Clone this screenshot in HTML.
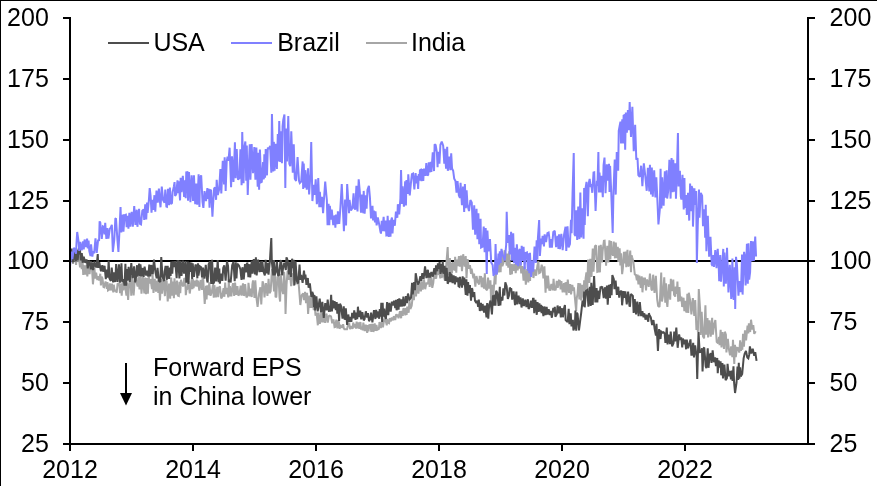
<!DOCTYPE html>
<html><head><meta charset="utf-8"><style>html,body{margin:0;padding:0;background:#fff;overflow:hidden}svg{display:block}text{will-change:transform}</style></head>
<body><svg width="877" height="486" viewBox="0 0 877 486">
<rect width="877" height="486" fill="#fff"/>
<rect x="70" y="260" width="738" height="2" fill="#000"/>
<g fill="none" stroke-width="2.0" stroke-linejoin="miter" stroke-miterlimit="2">
<path d="M70.00,261.2 71.13,259.9 71.89,254.5 73.02,263.9 74.05,255.1 74.85,254.6 76.07,264.9 77.01,254.5 77.73,261.6 78.61,255.9 80.02,267.4 80.68,257.3 81.75,269.1 82.31,255.2 83.23,274.9 83.77,265.1 85.25,274.5 85.78,266.8 86.44,265.2 87.32,276.4 88.41,264.5 89.63,274.1 90.65,261.8 91.79,265.5 92.96,284.3 94.43,267.7 95.25,278.7 96.13,272.7 97.36,280.0 98.30,276.1 99.13,280.5 100.28,273.7 100.90,285.5 101.68,276.7 102.52,278.5 103.44,286.9 104.10,287.3 105.55,281.5 106.88,288.9 107.45,282.1 108.00,290.4 109.07,289.7 109.87,283.4 110.72,290.5 112.00,283.6 113.29,292.4 113.80,284.7 114.82,291.5 115.33,289.7 116.68,292.6 117.50,284.1 118.32,283.6 119.20,283.6 120.08,293.1 120.96,283.6 121.70,295.8 122.63,282.0 123.39,290.5 124.55,280.0 125.16,286.2 126.43,295.5 126.95,282.6 128.13,299.9 129.14,283.9 130.57,278.6 131.25,295.7 132.15,275.8 133.62,295.4 134.81,278.9 136.21,280.7 137.62,286.6 138.32,277.2 139.51,289.5 140.60,274.4 141.48,293.6 142.97,277.2 144.31,293.4 145.21,277.6 145.94,294.3 146.68,278.0 147.88,293.7 148.81,274.5 149.60,283.6 150.54,279.2 151.99,289.1 152.60,274.7 153.48,292.9 154.78,278.8 155.96,291.6 157.13,280.7 158.27,292.8 158.91,277.6 159.96,300.5 161.22,278.7 161.98,293.7 163.25,280.4 164.29,288.4 164.89,296.2 165.58,280.2 166.67,281.1 167.70,301.5 169.09,283.6 170.17,298.6 171.16,277.6 172.32,295.8 172.85,281.6 173.92,298.2 174.47,278.4 175.90,294.6 177.00,280.5 177.85,295.6 178.83,296.0 179.49,281.7 180.30,293.1 180.98,279.8 182.07,284.2 183.36,286.5 184.26,278.1 185.25,279.2 185.80,295.1 186.52,289.1 187.14,289.7 188.43,281.0 189.75,293.5 191.22,282.5 191.75,279.3 192.45,289.3 192.99,279.4 193.58,288.2 194.76,280.7 195.99,286.2 196.72,279.6 197.39,286.7 198.04,280.7 199.30,290.5 200.68,280.0 201.91,289.9 202.52,277.2 203.26,279.5 204.72,304.0 206.01,285.7 206.59,299.5 207.28,285.3 208.40,295.2 209.25,282.3 210.56,295.8 211.79,292.0 213.02,284.4 213.74,297.8 214.40,285.2 215.89,297.4 217.29,286.9 218.20,297.2 218.80,287.8 219.94,286.4 221.18,298.5 222.09,297.0 223.57,288.1 224.38,296.8 225.17,282.6 225.96,294.2 227.00,288.0 228.27,297.4 228.78,279.0 229.38,296.4 229.92,286.2 231.33,296.3 232.34,286.8 233.01,283.1 234.18,296.0 235.09,282.6 236.14,294.8 237.44,286.1 238.35,295.6 239.46,294.1 240.67,285.6 241.54,295.6 242.97,283.4 243.78,295.8 244.56,294.6 245.14,284.0 246.48,297.5 247.94,295.1 248.49,282.8 249.89,296.4 250.45,288.5 251.77,297.0 252.38,284.5 253.01,280.4 254.45,297.9 255.30,280.3 256.55,298.6 257.59,307.0 259.02,293.9 260.36,287.2 261.27,304.5 262.57,281.2 263.51,284.2 264.51,297.5 265.95,283.2 267.43,295.9 268.57,278.8 269.55,293.3 270.67,291.2 271.95,269.0 272.66,273.0 274.03,291.5 274.90,274.5 275.55,297.3 276.33,296.7 277.36,277.2 278.55,276.1 279.52,297.5 280.11,301.5 280.79,273.8 281.95,288.8 283.14,294.1 284.12,271.9 284.95,282.5 285.54,314.0 286.56,284.7 287.60,270.7 288.63,280.0 289.75,269.9 291.11,286.2 291.80,273.8 293.24,274.8 293.78,285.6 295.11,281.5 295.88,266.5 296.82,284.3 297.93,276.2 298.97,287.3 300.33,305.0 301.72,295.2 303.22,293.4 304.06,300.1 305.04,291.8 306.03,303.1 307.08,292.8 308.12,313.9 309.36,295.6 310.11,307.8 310.93,297.9 311.62,307.9 312.33,294.8 313.75,310.1 314.56,304.1 315.54,315.6 316.55,312.5 317.84,325.3 318.57,312.6 319.83,323.8 321.20,312.6 322.13,322.3 322.67,313.4 323.93,322.4 324.48,314.2 325.18,322.9 325.83,316.0 326.49,313.6 327.77,322.7 328.89,316.1 329.56,315.6 331.03,316.4 332.19,323.3 333.49,319.5 334.57,327.2 335.09,327.0 336.35,319.6 337.38,328.4 337.98,320.5 338.91,322.0 339.54,328.7 340.96,325.9 342.33,327.7 343.13,324.2 343.72,328.0 344.41,329.2 345.55,329.3 347.01,329.3 348.22,324.1 349.32,324.0 350.08,329.1 351.53,326.1 352.62,328.8 353.22,322.5 354.06,327.4 355.31,324.0 356.00,328.6 356.61,321.7 357.31,328.2 358.72,322.4 359.36,328.9 360.46,322.0 361.10,329.6 361.92,326.7 362.73,330.2 363.32,322.7 364.72,331.0 365.76,324.7 367.20,332.8 367.90,325.2 368.52,331.4 369.28,325.1 370.45,324.9 371.29,332.0 371.82,325.3 372.64,324.2 373.44,332.0 374.70,323.3 375.59,330.9 376.45,324.9 377.40,329.8 378.88,329.0 379.46,322.0 380.84,328.1 381.79,322.0 382.96,327.4 384.29,318.9 385.51,320.1 386.75,325.3 387.27,318.8 387.90,322.6 389.07,323.2 389.80,318.1 390.69,321.4 391.97,317.7 393.20,320.4 393.80,316.1 395.24,320.0 396.24,314.1 396.93,317.0 397.87,314.3 398.51,318.4 399.96,311.2 401.12,318.3 401.67,310.8 402.79,315.8 403.36,308.3 404.21,309.3 405.29,315.4 405.85,308.2 406.60,314.8 407.25,306.7 408.68,312.7 409.44,299.6 410.34,309.0 411.69,305.7 413.07,293.6 413.92,300.1 415.04,282.5 416.02,296.4 417.11,283.7 418.44,293.6 419.59,281.9 420.91,291.3 421.98,281.6 422.76,289.6 423.99,279.3 425.21,289.2 426.46,282.6 427.91,284.2 429.03,275.1 429.66,286.9 430.91,275.7 432.27,287.8 433.26,283.2 434.38,271.0 434.96,278.0 436.23,277.8 437.49,268.9 438.31,274.8 439.04,270.7 440.30,278.3 441.01,269.0 441.56,277.8 442.50,275.8 443.50,266.2 444.06,276.9 444.92,280.5 446.29,264.9 447.67,247.0 448.63,275.2 449.87,258.1 450.50,274.8 451.40,262.9 451.99,272.9 452.73,262.1 453.52,269.4 454.61,269.8 455.14,256.9 456.27,272.7 456.93,259.6 457.75,266.2 458.94,256.1 459.83,266.6 461.01,255.6 461.97,271.1 463.18,254.2 464.65,266.7 465.71,256.1 466.52,278.1 467.63,259.1 468.97,268.8 469.96,265.2 471.05,273.8 471.59,268.7 472.46,273.4 473.37,278.3 474.05,273.7 475.34,286.6 476.48,276.0 477.70,281.8 479.18,284.4 479.69,276.9 481.09,277.0 481.71,287.3 482.65,277.6 484.01,288.7 484.83,273.2 485.77,288.8 487.15,290.3 488.04,277.6 489.11,288.7 490.44,280.3 491.09,301.1 491.99,296.7 492.54,284.8 493.48,294.4 494.69,275.9 495.50,284.5 496.10,270.2 496.93,274.1 497.74,264.4 498.76,272.5 499.57,259.9 500.64,272.1 501.16,258.0 501.74,251.9 502.38,266.3 503.58,262.6 504.59,250.3 505.31,252.6 506.69,265.7 507.43,253.5 508.28,267.8 509.25,251.3 510.21,274.8 511.15,264.2 511.91,274.3 512.49,264.2 513.90,270.9 514.78,263.9 515.70,273.1 516.66,262.9 517.66,270.3 518.44,262.7 519.26,268.5 520.07,260.4 521.27,273.3 522.41,266.2 523.56,280.7 524.65,266.5 525.83,284.7 527.24,269.0 528.34,282.5 529.28,265.3 530.07,281.0 530.66,268.2 531.74,272.7 532.55,269.5 533.43,278.0 534.69,269.5 536.12,275.7 537.40,265.6 538.37,261.3 539.13,273.1 540.38,272.3 541.70,264.6 542.63,269.1 543.40,278.5 544.42,266.3 545.55,292.6 546.38,275.6 547.13,288.5 547.99,275.7 549.29,289.8 550.32,289.9 551.33,283.8 552.83,290.2 553.57,278.8 554.47,290.3 555.17,289.4 555.71,289.4 556.79,280.8 557.73,287.8 558.98,280.6 559.78,280.8 560.65,289.3 561.37,281.2 562.65,292.4 563.98,283.1 564.90,292.4 565.55,282.2 566.55,295.1 567.78,279.7 569.08,292.9 570.20,284.0 571.03,294.3 572.32,285.0 573.36,290.9 573.96,287.3 574.82,297.2 576.16,311.0 576.72,298.4 577.58,293.3 578.35,283.1 579.37,299.4 580.15,283.2 581.14,300.4 582.10,284.9 583.58,297.7 584.15,280.3 584.74,294.9 585.56,278.6 586.42,272.3 587.28,289.6 588.08,259.5 589.46,283.0 590.23,258.8 591.49,276.9 592.75,248.6 593.52,271.8 594.91,246.2 596.08,245.3 597.28,271.9 598.28,271.6 599.06,245.5 599.92,272.4 600.79,244.8 602.05,262.5 602.62,251.1 603.90,240.9 604.62,240.7 606.09,265.6 607.24,245.7 608.41,262.5 609.41,240.3 610.35,259.4 611.02,241.0 611.60,252.6 612.96,255.7 613.68,241.6 614.94,258.3 615.77,242.6 616.83,258.2 617.79,246.7 618.32,261.9 619.65,248.2 620.38,265.5 621.02,253.2 622.14,274.2 622.86,268.3 623.94,251.7 625.12,263.3 625.68,251.6 626.27,267.3 627.49,249.8 628.00,266.2 628.80,265.7 630.25,250.5 630.99,272.1 631.59,255.2 632.12,257.3 633.42,262.0 634.79,274.4 635.95,275.0 636.86,280.4 637.59,274.6 638.41,284.5 639.34,275.6 640.78,288.0 641.70,276.4 642.46,292.3 643.67,277.7 644.37,285.0 644.89,277.5 646.06,290.4 646.73,279.5 647.49,281.0 648.74,286.8 649.95,273.7 651.44,289.3 652.15,290.4 653.14,274.7 654.51,292.9 655.85,275.8 657.18,299.5 658.12,306.0 659.50,307.0 660.03,298.0 661.21,272.6 661.94,301.5 662.85,296.5 664.25,277.3 665.27,302.8 665.95,283.4 666.83,302.1 667.38,307.0 668.85,284.2 670.20,299.6 670.85,278.8 671.82,291.2 673.28,279.5 674.05,294.7 675.21,296.6 675.76,286.5 676.77,293.9 677.42,281.6 678.20,301.6 679.41,287.0 680.31,301.2 681.34,296.6 682.17,307.0 683.57,297.7 684.34,311.1 685.08,300.9 686.19,311.7 686.77,312.3 687.33,293.7 688.26,313.0 688.79,292.7 690.28,301.2 691.39,314.4 692.84,298.0 694.26,316.0 695.23,300.0 696.44,330.0 697.12,323.2 697.90,332.0 698.78,289.0 700.14,309.7 700.65,334.9 701.66,311.9 702.97,336.2 704.09,338.4 705.42,305.3 706.22,334.6 707.50,318.0 708.10,337.4 709.49,320.3 710.73,336.7 712.13,317.7 712.92,334.7 714.13,324.7 715.35,320.0 716.69,341.8 718.08,343.4 719.01,337.0 719.57,345.1 720.65,329.8 721.50,347.4 722.52,332.0 723.97,348.9 724.87,331.7 725.91,334.7 726.41,352.5 727.86,338.8 728.88,349.1 730.06,355.4 731.17,346.3 732.33,357.2 732.97,339.7 734.28,364.0 734.93,344.7 735.75,357.1 737.09,347.8 738.06,348.0 739.26,352.6 740.14,340.3 740.99,350.9 741.54,342.4 742.32,349.8 743.04,333.7 743.92,346.8 744.97,330.3 746.08,340.4 747.55,325.7 748.30,333.5 748.89,323.4 750.17,332.0 751.03,319.7 752.30,329.5 753.27,325.1 754.27,333.9 755.66,331.2" stroke="#a6a6a6"/>
<path d="M70.00,262.4 71.00,254.0 71.59,248.5 72.81,262.4 73.34,260.0 74.26,258.0 75.26,248.3 75.78,261.4 76.47,249.7 77.68,260.4 78.85,248.1 79.94,249.9 80.85,260.3 81.79,253.1 82.68,262.7 83.78,256.7 85.26,262.8 86.71,259.5 87.76,268.3 89.00,260.6 89.93,263.2 90.91,269.3 92.03,262.5 93.12,270.2 94.44,261.6 95.69,266.4 96.54,267.4 97.75,254.0 98.27,267.9 99.28,262.1 99.80,265.0 100.98,271.3 102.28,265.1 103.10,271.7 104.57,265.8 105.81,279.1 106.35,269.5 107.82,277.5 108.67,260.6 109.47,278.4 110.86,281.0 111.70,267.6 113.14,282.4 113.87,272.4 115.28,282.0 116.12,264.0 117.58,282.0 118.94,264.4 120.06,282.6 121.45,263.3 122.23,281.7 123.61,279.3 124.53,285.5 125.41,263.9 126.16,285.7 126.96,269.1 127.52,280.7 128.64,266.8 129.80,281.9 131.29,263.2 132.73,278.2 134.12,266.3 135.20,282.4 135.77,279.5 137.06,265.2 137.64,276.7 139.12,263.6 139.92,276.1 140.45,264.3 141.69,276.5 142.35,268.0 143.66,276.9 144.61,266.6 145.53,272.2 146.17,275.5 147.28,270.7 148.28,276.5 149.28,264.6 150.34,276.3 151.35,265.0 152.73,274.3 153.97,259.6 155.43,272.2 156.69,278.4 157.53,267.8 158.84,280.7 160.30,281.9 161.25,257.0 162.55,276.7 164.01,281.1 164.63,271.6 165.57,265.9 166.90,279.8 167.65,265.9 169.13,278.8 170.01,267.6 170.63,276.0 171.26,261.5 172.27,273.6 173.07,261.4 174.06,267.1 175.16,261.2 176.65,278.2 177.45,261.1 178.31,261.0 179.40,278.5 180.39,260.9 181.52,275.9 182.87,260.7 184.07,273.6 185.41,261.0 186.33,282.6 187.78,261.6 188.48,284.0 189.51,262.1 190.72,271.8 191.45,262.6 192.18,279.3 192.71,263.4 193.99,277.0 195.46,264.5 196.49,266.9 197.35,278.3 197.96,263.4 198.51,275.6 199.83,266.3 201.17,267.3 202.04,277.4 203.01,267.7 204.42,278.6 205.77,264.8 207.15,280.9 207.67,282.4 208.63,264.3 209.97,261.4 211.22,284.0 212.11,259.9 213.20,284.0 214.22,281.8 215.14,267.5 216.37,281.4 217.72,260.1 218.69,282.2 219.32,268.5 219.84,283.7 221.07,273.7 222.38,280.9 223.21,268.1 224.30,265.4 225.63,280.7 226.96,261.3 228.04,265.8 228.85,281.3 229.88,281.5 230.70,281.6 232.17,265.3 233.48,261.9 234.68,281.1 235.82,262.3 236.47,278.5 237.15,266.3 237.92,264.4 238.95,265.6 240.31,269.1 241.52,279.9 242.44,267.2 243.74,279.3 244.99,264.1 245.89,272.4 246.85,263.5 247.36,263.4 248.40,277.1 249.44,264.2 250.24,277.4 251.72,260.9 252.59,273.6 253.76,259.1 255.05,274.4 255.89,257.3 256.65,275.5 258.15,259.7 259.43,272.2 260.90,261.5 261.42,271.8 262.32,261.1 263.37,271.2 264.84,275.5 265.62,259.8 266.91,273.3 267.91,262.8 268.52,274.6 269.91,260.6 271.30,238.0 271.81,261.5 273.28,275.4 274.01,260.0 274.64,275.3 275.75,272.0 276.94,261.6 278.05,275.7 279.08,274.9 280.48,261.2 281.10,260.3 282.17,275.3 283.23,266.7 284.35,262.7 285.83,270.0 286.47,257.4 287.02,258.6 287.57,260.4 289.00,274.5 289.82,262.2 290.96,276.9 292.08,258.7 292.98,268.1 293.65,259.9 294.40,285.3 295.56,261.4 296.78,280.7 298.19,283.5 299.53,264.5 300.42,279.8 301.19,275.0 302.61,282.9 303.99,270.5 304.90,279.4 305.43,274.5 306.44,284.8 307.85,278.0 308.59,287.7 309.87,283.3 311.36,297.2 312.24,291.9 313.26,294.7 313.93,307.1 314.45,295.0 315.13,310.5 316.41,296.4 317.69,311.3 319.11,302.3 319.72,298.7 321.02,312.4 322.35,301.9 323.76,318.0 325.24,303.2 326.68,310.3 327.69,299.6 328.88,310.9 330.16,310.8 331.14,294.8 331.95,311.4 332.77,300.3 333.69,308.3 334.55,301.1 335.83,310.0 336.68,302.1 337.31,313.7 338.23,303.7 339.13,321.0 340.01,303.7 341.05,306.0 342.53,318.7 343.74,306.3 344.71,319.8 345.82,308.4 347.13,324.8 348.27,314.5 349.48,322.1 350.11,316.8 351.37,321.8 352.14,312.8 353.61,318.3 354.21,310.4 355.53,319.9 356.12,312.5 357.22,319.2 357.92,306.7 358.87,317.1 360.28,310.7 361.18,319.3 362.32,312.2 363.73,320.4 364.55,319.1 365.84,311.3 367.13,317.6 367.96,313.2 369.05,321.2 370.36,318.6 371.07,312.6 372.39,322.3 372.93,318.3 373.98,310.2 375.42,319.0 376.13,309.8 376.93,317.4 378.36,311.6 379.22,318.8 379.76,309.0 380.68,316.6 381.31,302.7 382.14,321.9 382.67,302.9 383.26,316.6 384.25,308.6 384.94,316.4 385.92,318.9 387.08,302.1 388.28,315.1 389.35,302.9 390.71,311.6 391.88,301.7 392.69,305.4 394.08,300.7 395.21,308.1 396.07,299.8 396.58,310.3 397.95,299.0 398.58,309.7 399.31,298.4 400.39,306.7 401.41,299.4 402.52,306.5 403.41,296.5 403.92,305.8 405.09,304.8 405.91,296.0 406.96,303.2 407.96,293.6 409.45,299.5 410.46,298.6 411.03,297.6 412.07,282.8 412.77,294.3 414.15,282.2 414.98,290.1 415.70,273.2 417.08,280.9 417.92,284.5 419.09,282.1 420.40,276.3 421.32,281.1 422.28,273.2 423.64,278.8 425.05,266.4 426.44,278.1 427.39,271.1 427.91,269.8 428.56,277.7 429.14,273.0 429.95,277.5 431.37,272.0 432.85,276.7 434.31,268.1 435.48,274.6 436.01,265.3 437.36,271.3 437.91,263.3 438.78,269.1 439.59,262.1 440.52,273.8 441.54,264.1 442.17,272.4 442.72,261.4 443.41,273.8 444.59,265.8 445.45,280.9 446.69,267.8 447.67,283.8 449.03,280.1 449.79,272.0 450.58,282.2 451.44,273.5 452.55,283.2 453.61,275.3 454.95,284.4 455.48,276.2 456.90,282.1 457.96,277.5 458.51,286.2 459.32,286.7 459.98,276.9 460.65,281.1 462.03,287.6 462.65,276.4 463.33,285.2 464.29,277.5 465.75,294.9 466.37,279.2 467.48,295.6 468.08,282.1 469.03,293.2 469.92,285.1 471.02,300.8 471.75,288.2 472.35,289.1 473.01,297.1 474.25,292.0 474.98,300.6 476.36,302.9 477.18,300.6 478.12,306.8 478.80,299.7 479.84,311.0 480.97,302.9 481.93,310.6 482.63,304.0 484.04,312.6 485.13,305.6 486.49,317.3 487.16,303.1 488.27,318.6 489.15,305.4 490.46,300.6 491.95,314.5 492.99,295.3 493.65,305.7 494.27,294.6 495.47,305.6 496.15,290.8 497.21,292.5 498.60,306.0 499.82,286.8 500.36,305.4 500.97,296.9 502.47,300.5 503.32,288.3 504.37,295.5 505.32,282.3 506.64,286.1 507.84,298.9 508.92,295.8 509.77,287.6 510.71,289.2 511.24,288.4 512.17,299.6 513.61,291.4 515.02,305.2 516.39,291.5 517.00,304.4 517.81,296.3 518.70,296.4 519.47,304.2 520.45,297.3 521.53,307.5 522.79,298.5 523.92,306.0 525.39,299.6 526.43,307.0 527.93,299.3 528.56,309.0 529.68,307.4 530.87,300.7 531.98,307.8 533.01,298.7 533.56,298.7 534.23,313.2 535.42,299.8 536.77,314.8 537.55,302.0 538.09,311.8 539.44,303.4 540.17,311.6 540.99,304.7 541.60,313.3 542.10,305.9 543.40,316.2 544.35,306.5 545.55,315.0 546.63,306.9 547.56,314.6 548.69,309.2 549.83,315.1 550.59,310.9 551.87,317.7 553.28,307.9 554.19,312.4 554.82,306.9 555.35,316.8 556.75,314.1 557.56,305.5 558.91,313.4 560.01,306.4 560.82,317.4 562.19,308.2 562.85,317.3 564.21,307.4 564.92,305.0 565.64,320.0 566.59,321.0 567.64,322.1 568.68,308.8 569.45,324.2 570.73,313.2 571.47,326.4 572.88,319.7 573.41,330.5 574.86,326.2 575.44,310.5 576.20,330.8 576.88,312.8 577.59,314.1 578.97,330.5 580.35,319.3 581.12,313.5 582.58,300.7 583.61,306.3 584.16,291.6 584.70,307.3 586.02,290.8 587.40,289.9 588.41,306.7 589.85,286.7 590.73,306.0 591.30,282.8 592.70,304.9 594.09,276.0 595.36,302.4 596.59,288.1 597.34,302.4 598.06,290.7 599.20,299.0 600.53,286.6 601.07,287.6 602.25,286.6 603.71,298.1 604.61,289.0 605.28,287.3 606.00,298.7 606.94,285.5 607.71,304.7 608.96,284.7 609.97,298.0 610.75,284.1 611.61,295.2 612.34,275.0 613.83,279.1 614.45,289.1 615.60,280.5 616.84,294.9 618.28,286.8 619.22,297.6 619.99,292.2 621.45,290.8 622.10,305.3 623.55,291.0 624.34,297.9 625.33,291.3 626.74,304.5 628.10,291.7 629.52,306.4 630.03,306.0 630.80,294.0 631.68,294.8 632.87,295.9 633.66,312.9 634.74,299.2 636.03,314.4 637.22,301.5 638.58,316.2 639.84,302.2 641.15,316.1 642.37,311.3 643.55,317.2 644.22,313.3 645.62,319.7 646.51,314.6 647.75,320.1 648.26,321.6 648.87,313.2 649.46,314.9 650.78,317.4 652.10,325.1 653.46,320.1 654.63,328.8 655.94,335.6 656.49,323.8 657.94,351.0 659.08,329.1 660.52,339.0 661.29,331.6 662.71,332.6 663.57,332.2 664.70,333.7 665.40,343.0 666.77,327.6 667.55,344.5 668.72,334.5 670.05,344.0 670.70,331.5 672.14,346.3 673.55,342.9 674.24,331.6 675.07,341.5 676.32,327.6 677.67,347.8 679.12,334.4 680.15,339.9 681.24,337.3 682.24,347.3 682.95,338.5 684.24,344.2 685.06,339.6 686.13,349.3 686.78,339.6 688.12,348.3 689.59,343.1 690.50,339.4 691.36,354.7 691.89,354.7 693.19,342.8 693.98,357.4 695.14,345.4 696.64,356.5 697.23,379.0 698.51,332.0 699.69,352.2 700.45,352.1 701.25,351.7 701.96,348.3 702.55,371.4 703.73,348.1 704.25,347.5 705.72,366.2 706.38,368.1 707.73,348.4 708.52,367.8 709.65,355.2 710.69,353.1 711.51,362.8 712.65,350.4 713.87,362.2 714.98,357.3 715.97,366.2 717.24,358.0 717.75,373.2 718.67,360.4 719.36,367.5 720.57,361.4 721.19,375.3 722.38,363.0 722.98,378.4 724.42,364.7 725.60,380.1 726.93,378.2 727.56,363.9 728.82,376.3 730.17,370.9 730.92,379.3 731.96,370.5 732.54,380.9 733.48,366.3 734.09,382.5 735.04,393.0 736.53,382.7 737.50,366.5 738.20,379.9 738.79,362.8 739.35,378.8 740.15,367.3 740.76,376.5 742.19,373.9 743.62,358.4 744.64,353.8 745.97,350.9 747.32,357.4 748.33,358.3 749.19,354.9 749.89,346.4 751.32,353.6 752.72,348.7 754.22,355.8 755.26,352.2 756.55,360.8" stroke="#4d4d4d"/>
<path d="M70.00,266.6 71.24,251.6 72.34,259.1 73.84,248.0 74.61,248.7 76.00,253.8 76.52,242.8 77.20,232.0 78.61,241.9 79.27,250.9 80.30,241.8 81.68,250.4 83.10,241.4 83.77,249.5 84.58,239.5 85.67,247.0 87.10,238.6 87.79,248.5 88.57,240.5 89.31,251.0 90.53,256.1 91.05,244.3 92.37,256.7 93.02,251.9 94.26,252.2 95.50,238.4 96.71,252.9 98.08,240.4 99.10,240.2 99.61,221.4 100.28,222.5 101.77,239.0 102.86,226.3 103.89,226.9 104.50,234.3 105.22,222.8 106.36,239.0 107.37,228.2 108.39,238.7 109.82,228.8 110.69,227.7 111.86,224.9 112.85,252.0 114.28,239.6 115.35,218.8 115.97,218.2 117.43,240.0 118.43,252.0 119.20,236.4 120.54,207.0 121.30,232.4 121.89,215.8 122.81,215.4 123.44,231.7 124.62,215.2 125.87,214.7 126.63,227.2 127.91,215.7 128.44,228.8 129.35,212.7 130.32,226.6 131.67,211.9 132.84,226.6 134.22,206.0 135.45,225.0 136.72,209.7 137.41,226.8 138.48,216.1 139.05,208.8 140.04,223.8 141.04,224.4 142.32,210.7 143.69,209.4 144.20,219.9 145.24,204.2 146.22,219.4 147.02,202.6 147.62,213.0 148.97,199.1 149.70,188.0 150.58,195.5 151.52,212.6 152.46,199.8 153.15,209.8 154.45,195.2 155.29,211.6 156.48,190.6 157.73,202.6 158.90,188.5 159.88,201.2 160.51,207.3 161.77,186.6 163.10,200.2 164.53,202.8 165.28,189.6 166.39,206.6 166.95,206.8 167.98,188.7 169.09,205.1 169.90,187.5 170.94,204.0 171.97,203.1 172.59,192.1 173.89,186.5 174.56,182.1 175.11,195.9 176.17,194.4 177.50,180.4 178.14,193.3 178.69,181.3 180.05,200.4 180.65,177.9 181.53,192.2 182.84,175.8 184.11,197.0 184.64,180.2 185.72,198.2 186.27,172.3 187.36,172.2 188.05,200.8 189.01,172.1 190.42,202.2 191.64,175.3 193.05,201.0 193.94,175.3 195.23,204.2 196.20,183.5 197.27,204.7 198.63,174.3 199.44,207.1 199.95,178.9 201.18,175.2 202.51,201.9 203.39,207.9 204.53,191.1 206.00,201.2 207.37,188.1 207.93,199.0 208.82,188.9 209.54,207.6 210.13,189.8 211.14,190.6 212.43,216.7 213.06,204.7 214.17,188.4 215.11,187.3 216.08,199.8 216.69,179.8 217.82,195.1 219.16,189.4 220.38,169.1 221.30,193.5 222.76,160.8 224.05,184.5 224.66,157.3 225.66,191.0 226.69,161.6 227.56,156.7 228.50,160.8 229.60,147.7 231.08,187.3 232.00,156.2 233.45,181.9 234.92,142.3 235.67,178.2 236.73,149.0 237.98,179.7 239.44,178.0 240.40,149.4 241.59,185.2 242.24,132.0 243.55,183.2 244.45,146.8 245.35,141.5 246.21,180.7 246.79,145.4 247.74,195.0 248.29,178.6 249.76,144.3 250.43,179.7 251.65,144.1 253.00,173.2 254.31,147.1 255.40,179.8 256.37,147.6 257.71,186.7 258.42,152.7 259.11,189.7 259.91,149.6 261.22,182.2 261.78,181.9 263.08,162.0 263.79,179.4 264.33,154.3 265.06,177.8 265.71,149.1 266.99,175.4 267.84,147.5 268.89,149.0 270.14,146.0 271.32,172.7 271.94,114.0 273.28,171.5 273.87,141.9 274.60,170.6 275.76,143.7 276.91,169.0 277.79,134.1 278.56,161.5 279.24,121.0 280.27,162.0 280.88,131.2 281.94,163.2 282.58,126.3 283.25,120.0 284.44,114.5 285.32,188.0 286.06,128.6 286.97,161.4 288.28,116.0 289.35,163.8 290.31,166.2 291.28,131.2 292.77,172.7 293.77,144.4 294.79,178.8 296.08,180.9 297.57,157.0 299.01,180.9 299.77,183.1 301.18,181.5 302.64,161.4 303.19,188.9 303.73,163.6 304.62,187.6 305.29,170.2 306.76,189.7 308.02,168.3 309.13,194.5 310.48,173.7 311.23,142.0 312.40,201.1 313.79,184.7 314.53,194.9 315.71,179.3 316.85,204.1 317.56,197.2 318.25,178.0 319.31,207.1 319.85,191.8 321.01,207.1 321.94,196.8 323.08,213.3 324.06,197.8 325.21,181.6 326.30,194.3 326.85,200.0 327.56,225.1 328.62,203.8 329.29,225.2 329.87,205.8 331.18,219.6 331.77,209.5 333.25,225.2 334.59,215.4 335.37,227.6 336.06,214.5 337.19,224.2 337.91,211.4 339.22,223.9 340.39,207.8 341.75,184.0 342.66,203.5 343.91,231.3 345.10,199.6 346.03,225.5 347.18,184.0 348.44,203.7 349.02,213.1 349.53,200.0 350.97,210.4 352.42,207.9 353.57,193.3 354.24,207.9 355.28,209.6 356.39,185.7 357.49,211.5 358.69,179.4 359.79,191.6 360.99,212.6 362.02,194.6 363.20,213.3 363.70,190.9 364.63,213.7 365.89,195.2 366.60,208.6 367.46,190.0 368.90,185.8 369.95,197.9 371.00,218.4 372.50,205.9 373.08,220.5 373.85,210.7 374.98,222.4 375.49,211.4 376.64,225.4 377.81,217.5 379.17,224.3 380.46,231.7 380.98,233.6 381.76,220.9 382.33,231.1 383.64,216.9 384.38,231.3 385.56,220.6 386.36,235.4 386.91,235.2 387.64,215.9 388.67,236.9 389.65,220.3 390.49,236.8 391.17,220.2 391.96,217.5 392.49,233.4 393.51,219.7 394.81,225.7 395.92,211.7 397.33,217.8 397.84,204.2 399.20,214.4 400.39,198.7 401.05,170.0 401.90,204.0 402.60,186.4 403.91,206.8 405.14,181.2 405.92,205.5 406.45,180.0 407.77,194.0 408.28,174.3 409.74,195.4 410.92,183.1 411.91,174.2 413.11,173.6 414.35,189.4 415.60,173.2 416.52,183.5 417.24,175.8 418.14,188.9 418.78,174.0 419.40,180.6 419.94,170.3 420.77,169.8 421.51,181.2 422.42,169.1 423.27,180.9 423.89,168.6 425.35,175.8 426.33,163.2 427.45,175.7 428.25,174.7 428.80,162.2 429.66,168.3 430.28,172.3 430.79,161.9 431.37,171.9 432.76,152.3 434.03,171.1 434.61,144.3 435.66,145.0 436.92,152.7 437.58,167.2 438.10,151.8 439.41,163.6 440.41,144.8 441.74,141.7 443.18,145.7 444.31,163.8 444.82,148.8 446.05,168.8 447.19,146.9 447.83,170.8 449.23,156.7 450.32,170.1 451.20,153.2 452.05,168.5 453.16,170.7 454.21,178.7 455.48,181.1 456.54,192.6 457.55,181.0 458.88,195.6 459.94,197.9 460.56,182.7 461.94,205.2 463.05,186.6 464.18,211.9 464.88,184.0 465.85,208.1 466.59,190.3 467.53,205.0 469.02,211.0 470.40,200.1 470.96,200.9 471.76,202.4 472.95,229.8 474.21,205.2 475.16,234.8 476.52,208.9 477.45,239.2 478.38,213.4 479.29,244.2 480.57,218.7 481.08,247.5 482.51,246.7 483.72,226.5 484.64,252.3 485.67,227.9 486.77,274.0 487.43,230.6 488.52,251.3 489.97,239.0 491.22,262.4 492.65,265.1 493.57,276.0 494.92,271.8 495.58,244.0 496.46,274.8 497.24,270.3 498.46,253.6 499.05,264.7 499.82,251.3 500.56,263.0 501.46,248.9 502.94,255.6 503.56,256.8 504.71,260.5 506.17,244.8 506.70,211.7 507.63,242.8 508.96,235.1 509.77,254.4 511.10,231.8 511.93,260.8 513.21,233.2 514.09,263.3 514.66,247.9 516.09,264.6 516.86,244.2 518.23,266.1 519.15,250.3 519.89,249.0 520.82,265.5 521.69,245.9 522.52,260.9 523.57,246.7 524.60,269.3 525.59,253.0 526.97,252.5 527.83,270.6 528.49,253.4 529.29,273.3 529.98,252.9 531.11,276.9 532.41,260.3 533.18,271.6 534.54,246.6 535.81,263.0 536.67,240.4 537.38,259.8 537.91,237.8 539.16,220.0 539.87,256.0 541.26,238.5 541.77,244.1 542.63,235.8 543.97,246.5 544.66,234.4 546.07,242.0 547.39,233.2 548.62,232.6 549.29,237.3 549.87,247.6 551.14,239.2 551.89,247.6 553.29,232.1 554.78,230.9 556.07,247.1 557.46,235.9 558.44,248.8 559.07,234.2 559.93,249.1 561.35,233.8 562.65,250.1 564.09,234.5 565.53,226.8 566.28,251.0 567.52,226.3 568.60,247.5 569.94,244.1 570.99,219.7 571.61,233.3 572.55,193.6 573.74,153.0 574.56,234.5 575.47,236.0 576.18,210.3 577.18,240.0 578.23,206.5 579.40,239.1 580.34,192.6 581.22,237.5 582.66,208.4 583.56,238.7 584.14,188.0 584.74,224.9 585.59,188.0 586.51,181.8 587.86,216.2 588.71,183.4 589.67,178.9 590.73,187.1 591.31,184.1 592.28,192.8 593.53,172.4 594.22,172.2 595.59,211.0 596.88,180.9 597.45,185.9 598.38,152.0 598.97,192.4 599.50,172.5 600.58,192.4 601.50,175.7 602.80,197.2 603.56,165.4 604.51,157.6 605.54,193.1 606.84,164.2 608.01,180.8 609.00,163.8 609.50,192.0 610.10,165.9 611.21,192.0 612.68,233.0 613.49,190.7 614.11,175.5 614.74,159.6 615.73,194.6 616.77,151.9 618.19,170.8 618.75,130.8 619.69,125.8 620.49,121.6 621.02,143.4 621.69,127.5 622.30,119.4 623.08,143.4 623.61,115.6 624.38,115.2 625.17,149.7 625.84,112.5 626.86,132.7 627.90,110.1 628.86,130.1 629.68,102.0 630.99,136.9 632.35,106.8 633.75,151.3 634.54,140.6 635.14,124.7 636.30,159.7 637.51,158.0 638.34,175.2 639.78,176.9 641.13,165.7 642.37,186.3 643.83,163.3 645.27,175.9 646.73,190.8 647.88,167.8 649.31,191.4 649.92,164.7 651.08,194.4 651.83,167.6 652.76,196.8 654.18,170.3 655.39,197.4 656.32,177.2 657.63,205.5 658.43,224.5 659.80,209.8 660.57,168.8 661.42,208.6 662.14,177.2 663.62,205.7 664.84,171.2 665.39,197.6 666.66,170.3 667.17,198.6 668.19,190.8 669.39,159.8 670.60,198.6 671.57,158.0 672.62,192.2 673.29,159.8 674.12,191.6 675.36,163.2 675.96,198.7 676.95,171.0 677.94,133.0 678.56,186.4 679.90,170.8 680.79,196.5 681.40,199.6 682.48,174.9 683.73,209.5 684.43,178.0 684.94,207.9 686.22,195.0 686.83,214.9 688.03,192.9 689.22,220.6 690.09,183.6 691.07,211.3 691.62,186.0 692.45,188.6 692.98,226.6 694.42,188.2 694.94,204.8 696.14,190.9 696.86,263.0 697.76,225.2 698.98,189.6 699.52,217.6 700.75,192.8 702.11,195.8 703.01,226.1 704.38,209.3 705.17,237.7 705.75,204.7 706.40,251.3 707.82,215.9 709.13,256.8 710.47,236.9 711.70,264.5 712.58,265.9 713.36,255.1 713.97,267.0 715.30,250.0 716.52,268.2 717.71,248.7 718.68,265.6 719.21,281.2 719.74,277.5 720.26,255.0 721.00,281.6 722.40,261.8 723.26,248.9 723.81,286.6 724.45,252.6 725.90,283.6 727.03,247.7 728.44,292.4 729.83,264.8 731.22,298.9 732.41,258.6 733.02,293.8 733.69,299.9 734.71,267.3 735.21,309.0 736.00,256.8 736.98,265.1 738.44,295.6 739.67,281.1 740.94,292.1 742.04,254.6 742.59,294.6 744.08,251.8 744.79,256.0 745.61,285.4 746.91,243.7 747.81,283.7 748.46,243.2 749.20,279.7 750.10,272.2 751.00,241.0 751.79,261.2 752.82,241.3 753.85,261.0 755.22,236.5 756.05,256.5" stroke="#8080ff"/>
</g>
<rect x="0" y="0" width="877" height="1" fill="#000"/><rect x="0" y="0" width="1" height="486" fill="#000"/><rect x="69" y="17" width="2" height="428" fill="#000"/><rect x="807" y="17" width="2" height="428" fill="#000"/><rect x="63" y="443" width="752" height="2" fill="#000"/><rect x="63" y="17" width="7" height="2" fill="#000"/><rect x="808" y="17" width="7" height="2" fill="#000"/><rect x="63" y="78" width="7" height="2" fill="#000"/><rect x="808" y="78" width="7" height="2" fill="#000"/><rect x="63" y="139" width="7" height="2" fill="#000"/><rect x="808" y="139" width="7" height="2" fill="#000"/><rect x="63" y="200" width="7" height="2" fill="#000"/><rect x="808" y="200" width="7" height="2" fill="#000"/><rect x="63" y="260" width="7" height="2" fill="#000"/><rect x="808" y="260" width="7" height="2" fill="#000"/><rect x="63" y="321" width="7" height="2" fill="#000"/><rect x="808" y="321" width="7" height="2" fill="#000"/><rect x="63" y="382" width="7" height="2" fill="#000"/><rect x="808" y="382" width="7" height="2" fill="#000"/><rect x="69" y="443" width="2" height="8" fill="#000"/><rect x="192" y="443" width="2" height="8" fill="#000"/><rect x="315" y="443" width="2" height="8" fill="#000"/><rect x="438" y="443" width="2" height="8" fill="#000"/><rect x="561" y="443" width="2" height="8" fill="#000"/><rect x="684" y="443" width="2" height="8" fill="#000"/>
<rect x="125" y="363" width="2" height="31" fill="#000"/><path d="M120,393 L132,393 L126,405.5 Z" fill="#000"/>
<g font-family="Liberation Sans, sans-serif" font-size="25" fill="#000">
<text x="48.8" y="26.0" text-anchor="end">200</text><text x="829.6" y="26.0">200</text><text x="48.8" y="86.9" text-anchor="end">175</text><text x="829.6" y="86.9">175</text><text x="48.8" y="147.7" text-anchor="end">150</text><text x="829.6" y="147.7">150</text><text x="48.8" y="208.6" text-anchor="end">125</text><text x="829.6" y="208.6">125</text><text x="48.8" y="269.4" text-anchor="end">100</text><text x="829.6" y="269.4">100</text><text x="48.8" y="330.3" text-anchor="end">75</text><text x="829.6" y="330.3">75</text><text x="48.8" y="391.1" text-anchor="end">50</text><text x="829.6" y="391.1">50</text><text x="48.8" y="452.0" text-anchor="end">25</text><text x="829.6" y="452.0">25</text><text x="70.0" y="478" text-anchor="middle">2012</text><text x="193.0" y="478" text-anchor="middle">2014</text><text x="316.0" y="478" text-anchor="middle">2016</text><text x="439.0" y="478" text-anchor="middle">2018</text><text x="562.0" y="478" text-anchor="middle">2020</text><text x="685.0" y="478" text-anchor="middle">2022</text>
<rect x="108" y="42" width="41" height="2" fill="#4d4d4d"/>
<text x="153.4" y="50.5">USA</text>
<rect x="231" y="42" width="41" height="2" fill="#8080ff"/>
<text x="277.2" y="50.5">Brazil</text>
<rect x="366" y="42" width="41" height="2" fill="#a6a6a6"/>
<text x="411" y="50.5">India</text>
<text x="153" y="376">Forward EPS</text>
<text x="153" y="405">in China lower</text>
</g>
</svg></body></html>
